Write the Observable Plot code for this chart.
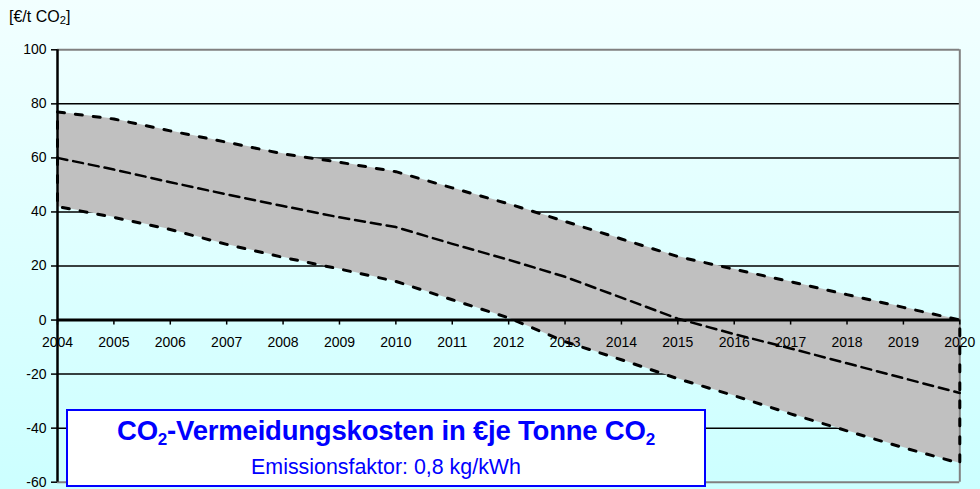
<!DOCTYPE html>
<html>
<head>
<meta charset="utf-8">
<script src="https://cdn.jsdelivr.net/npm/d3@7"></script>
<script src="https://cdn.jsdelivr.net/npm/@observablehq/plot@0.6"></script>
<style>
html, body { margin: 0; padding: 0; }
body {
  width: 980px; height: 489px; overflow: hidden; position: relative;
  background: linear-gradient(to bottom, #f2ffff, #ccffff);
  font-family: Arial, "Liberation Sans", sans-serif;
}
#chart svg { display: block; }
#unit { position: absolute; left: 9px; top: 8px; font-size: 16px; color: #000; line-height: 18px; white-space: nowrap; }
#unit sub { font-size: 0.7em; vertical-align: -0.15em; line-height: 0; }
#legend {
  position: absolute; left: 66px; top: 409px; width: 636px; height: 74px;
  border: 2px solid #0000ff; background: #ffffff; color: #0000ff; text-align: center;
}
#legend .t { position: absolute; left: 0; right: 0; top: 7px; font-size: 27.5px; font-weight: bold; line-height: 26px; white-space: nowrap; letter-spacing: -0.2px; }
#legend .t sub { font-size: 0.62em; vertical-align: -0.3em; line-height: 0; }
#legend .s { position: absolute; left: 0; right: 0; top: 46px; font-size: 21.4px; line-height: 20px; white-space: nowrap; }
</style>
</head>
<body>
<div id="chart"></div>
<div id="unit">[€/t CO<sub>2</sub>]</div>
<div id="legend">
  <div class="t">CO<sub>2</sub>-Vermeidungskosten in €je Tonne CO<sub>2</sub></div>
  <div class="s">Emissionsfaktor: 0,8 kg/kWh</div>
</div>
<script>
const years  = [2004, 2005, 2006, 2007, 2008, 2009, 2010, 2011, 2012, 2013, 2014, 2015, 2016, 2017, 2018, 2019, 2020];
const upper  = [77, 74.4, 70, 65.8, 61.5, 58.4, 54.9, 48.9, 43, 36.5, 30, 23.5, 18.8, 14.2, 9.4, 4.7, 0];
const middle = [60, 55.7, 51, 46.5, 42.2, 38, 34.4, 28.2, 22.3, 16, 8.3, 0.5, -5.2, -10.5, -16, -21.5, -27];
const lower  = [42, 38, 33.5, 28, 23.2, 18.9, 14.3, 7.5, 0.8, -8, -14.7, -21.7, -28, -34.7, -41, -47.2, -53];
const yTicks = [-60, -40, -20, 0, 20, 40, 60, 80, 100];
const gridLines = [-40, -20, 20, 40, 60, 80];

const rows = years.map((year, i) => ({year, upper: upper[i], middle: middle[i], lower: lower[i]}));
const outline = [
  ...years.map((year, i) => ({year, v: upper[i]})),
  ...years.map((year, i) => ({year, v: lower[i]})).reverse(),
  {year: years[0], v: upper[0]}
];

const chart = Plot.plot({
  width: 980,
  height: 489,
  marginLeft: 57,
  marginRight: 20.7,
  marginTop: 49.3,
  marginBottom: 7.3,
  style: {background: "transparent", fontFamily: "Arial, 'Liberation Sans', sans-serif", fontSize: "14px", color: "#000"},
  x: {domain: [2004, 2020], axis: null},
  y: {domain: [-60, 100], axis: null},
  marks: [
    Plot.ruleY(gridLines, {stroke: "#000", strokeWidth: 1.5}),
    Plot.areaY(rows, {x: "year", y1: "lower", y2: "upper", fill: "#c0c0c0"}),
    Plot.ruleY([100, -60], {stroke: "#808080", strokeWidth: 2}),
    Plot.ruleX([2020], {stroke: "#808080", strokeWidth: 2}),
    Plot.ruleY([0], {stroke: "#000", strokeWidth: 3}),
    Plot.line(outline, {x: "year", y: "v", stroke: "#000", strokeWidth: 3, strokeDasharray: "7,11"}),
    Plot.line(rows, {x: "year", y: "middle", stroke: "#000", strokeWidth: 2.5, strokeDasharray: "10,6"}),
    Plot.ruleX([2004], {stroke: "#000", strokeWidth: 2.5}),
    Plot.axisY({ticks: yTicks, tickFormat: d => String(d), tickSize: 6, tickPadding: 5, fontSize: 14, anchor: "left", stroke: "#000", strokeWidth: 1.5}),
    Plot.ruleX(years, {x: d => d, y1: 0, y2: 0, insetBottom: -5, stroke: "#000", strokeWidth: 1.5}),
    Plot.text(years, {x: d => d, y: 0, dy: 22, text: d => String(d), fontSize: 14, fill: "#000"})
  ]
});
document.getElementById("chart").appendChild(chart);
</script>
</body>
</html>
